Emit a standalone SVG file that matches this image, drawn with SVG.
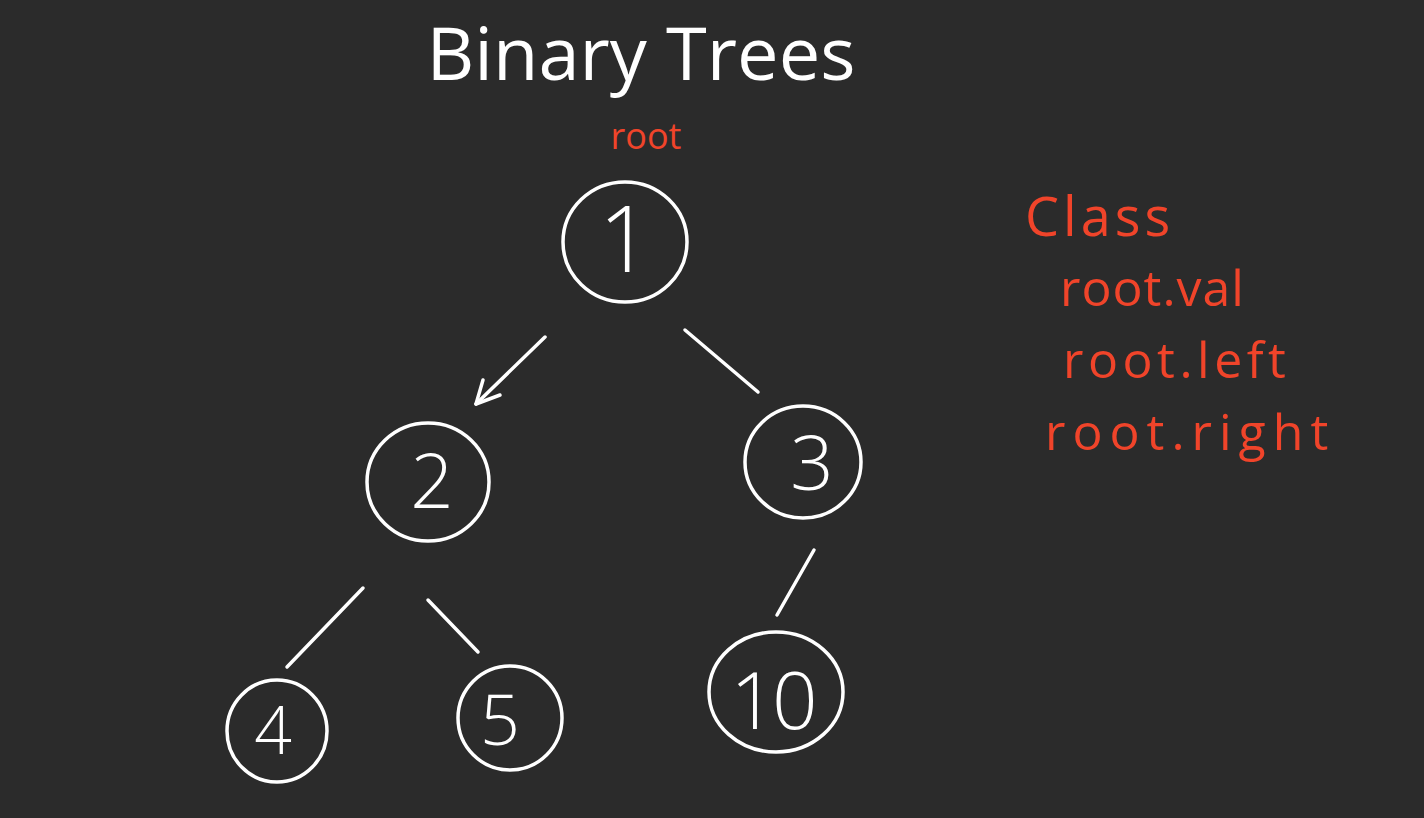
<svg xmlns="http://www.w3.org/2000/svg" width="1424" height="818" viewBox="0 0 1424 818">
<defs>
<style>
.node ellipse{fill:none;stroke:#ffffff;stroke-width:3.5}
.num{fill:#ffffff;font-family:"Open Sans","DejaVu Sans",sans-serif;font-weight:300;text-anchor:middle}
.edge{stroke:#ffffff;stroke-width:3.5;stroke-linecap:round;fill:none}
.red{fill:#f0442a;font-family:"Open Sans","Liberation Sans",sans-serif;font-weight:500}
</style>
</defs>
<rect width="1424" height="818" fill="#2b2b2b"/>
<text x="641" y="80" fill="#ffffff" font-family="'Open Sans','DejaVu Sans',sans-serif" font-size="74" text-anchor="middle">Binary Trees</text>
<text class="red" x="646" y="149" font-size="36" text-anchor="middle">root</text>
<g id="class-notes">
<text class="red" x="1025" y="236" font-size="54" letter-spacing="4">Class</text>
<text class="red" x="1060" y="306" font-size="50" letter-spacing="1">root.val</text>
<text class="red" x="1063" y="378" font-size="50" letter-spacing="4.5">root.left</text>
<text class="red" x="1045" y="450" font-size="50" letter-spacing="7">root.right</text>
</g>
<g id="connectors">
<line class="edge" x1="545" y1="337" x2="476" y2="404"/>
<path class="edge" d="M476,404 L483,380 M476,404 L500,395"/>
<line class="edge" x1="685" y1="330" x2="758" y2="392"/>
<line class="edge" x1="363" y1="588" x2="287" y2="667"/>
<line class="edge" x1="428" y1="600" x2="478" y2="652"/>
<line class="edge" x1="814" y1="550" x2="777" y2="615"/>
</g>
<g id="node-1" class="node">
<ellipse cx="625" cy="242" rx="62" ry="60"/>
<text class="num" x="625" y="272" font-size="92">1</text>
</g>
<g id="node-2" class="node">
<ellipse cx="428" cy="482" rx="61" ry="59"/>
<text class="num" x="432" y="508" font-size="76">2</text>
</g>
<g id="node-3" class="node">
<ellipse cx="803" cy="462" rx="58" ry="56"/>
<text class="num" x="812" y="490" font-size="76">3</text>
</g>
<g id="node-4" class="node">
<ellipse cx="277" cy="731" rx="50" ry="51"/>
<text class="num" x="273" y="754" font-size="66">4</text>
</g>
<g id="node-5" class="node">
<ellipse cx="510" cy="718" rx="52" ry="52"/>
<text class="num" x="500" y="745" font-size="70">5</text>
</g>
<g id="node-10" class="node">
<ellipse cx="776" cy="692" rx="67" ry="60"/>
<text class="num" x="772" y="729" font-size="80" letter-spacing="-4">10</text>
</g>
</svg>
